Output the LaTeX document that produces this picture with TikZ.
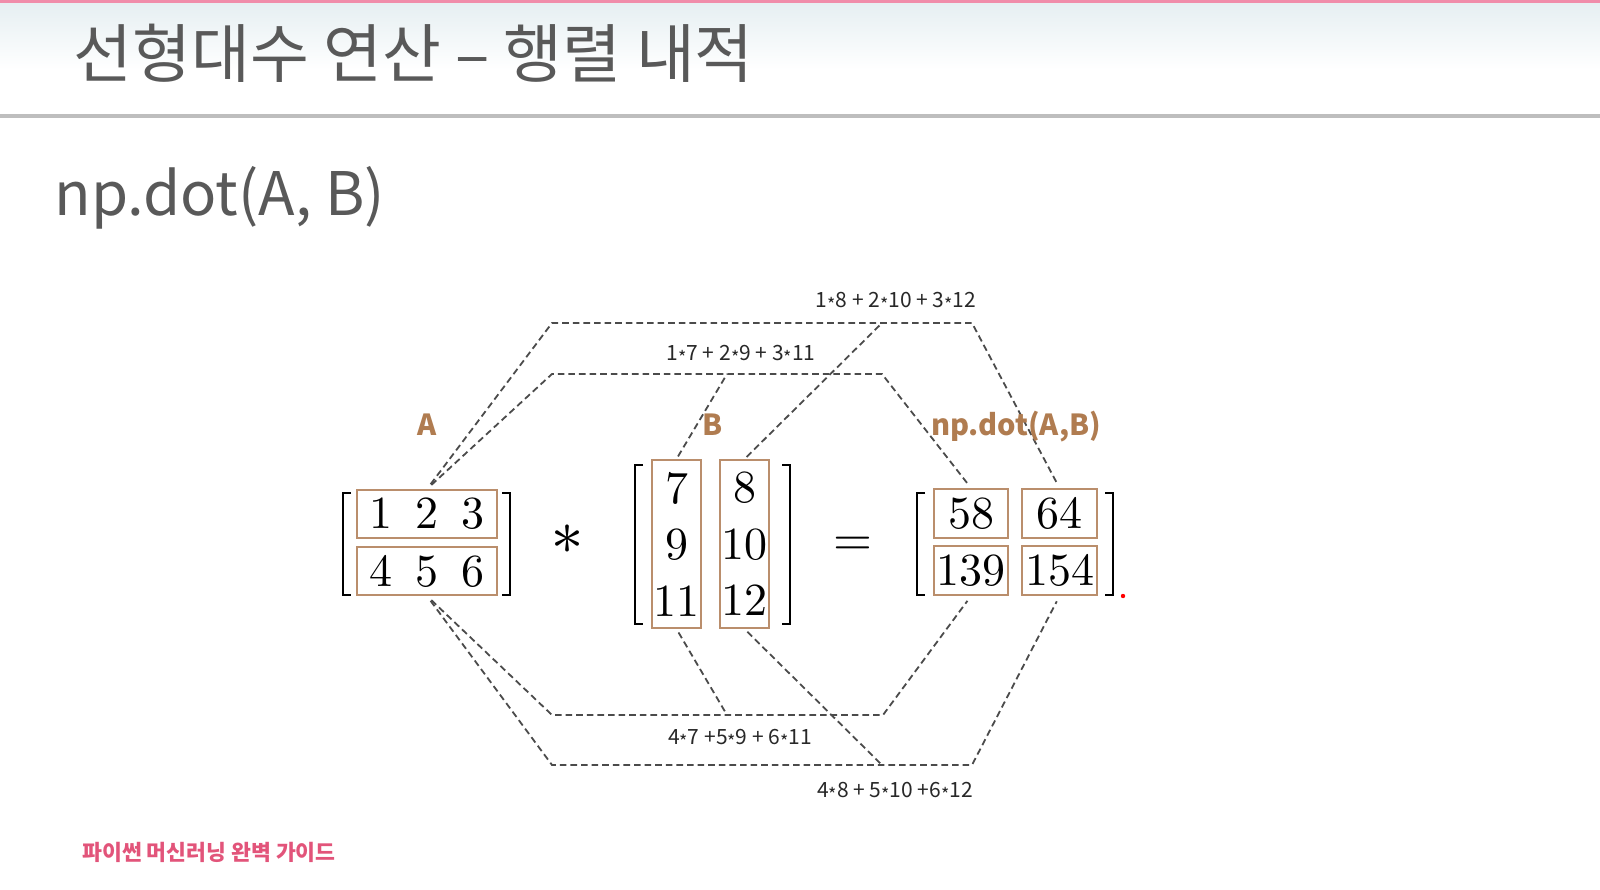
\documentclass[tikz,border=0pt]{standalone}
\usepackage{fontspec}
\newfontfamily\korean{Noto Sans CJK KR}
\newfontfamily\mathglyphs{latinmodern-math.otf}
\newfontfamily\celldigits{lmroman10-regular.otf}
\newcommand{\tm}{\raisebox{-0.35ex}{\scalebox{0.85}{*}}}
\definecolor{titlegray}{RGB}{89,89,89}
\definecolor{labelbrown}{RGB}{176,124,80}
\definecolor{boxbrown}{RGB}{186,142,108}
\definecolor{dashgray}{RGB}{75,75,75}
\definecolor{sumgray}{RGB}{40,40,40}
\definecolor{footpink}{RGB}{226,84,122}
\definecolor{headpink}{RGB}{240,140,170}
\definecolor{headblue}{RGB}{230,239,242}
\definecolor{rulegray}{RGB}{190,190,190}
\begin{document}
\begin{tikzpicture}[x=0.5pt, y=-0.5pt,
        cellbox/.style={draw=boxbrown, line width=1pt, inner sep=0pt, font=\celldigits\fontsize{23}{28.25}\selectfont},
        tagtext/.style={text=labelbrown, font=\korean\bfseries\fontsize{14.5}{17}\selectfont},
        sumtext/.style={text=sumgray, font=\korean\fontsize{10.5}{12}\selectfont},
        dotline/.style={dashgray, line width=0.9pt, dash pattern=on 3.3pt off 2pt},
        matbracket/.style={line width=1.2pt, black}]
    \useasboundingbox (0, 0) rectangle (1600, 889);
    \fill[white] (0, 0) rectangle (1600, 889);

    % header
    \shade[top color=headblue, bottom color=white] (0, 3) rectangle (1600, 70);
    \fill[headpink] (0, 0) rectangle (1600, 3);
    \fill[rulegray] (0, 114) rectangle (1600, 118);
    \node[anchor=west, inner sep=0pt, text=titlegray, font=\korean\fontsize{32}{36}\selectfont] (title) at (73, 53) {선형대수 연산 – 행렬 내적};
    \node[anchor=west, inner sep=0pt, text=titlegray, font=\korean\fontsize{30}{34}\selectfont] (call) at (54, 198) {np.dot(A, B)};

    % matrices
    \node[cellbox, minimum width=70pt, minimum height=24pt] (A1) at (427, 514) {1\enskip 2\enskip 3};
    \node[cellbox, minimum width=70pt, minimum height=24pt] (A2) at (427, 571) {4\enskip 5\enskip 6};
    \node[cellbox, align=center, minimum width=24.5pt, minimum height=84pt] (B1) at (676.5, 544) {7\\9\\11};
    \node[cellbox, align=center, minimum width=24.5pt, minimum height=84pt] (B2) at (744.5, 544) {8\\10\\12};
    \node[cellbox, minimum width=37pt, minimum height=24.5pt] (R11) at (971, 513.5) {58};
    \node[cellbox, minimum width=37.5pt, minimum height=24.5pt] (R12) at (1059.5, 513.5) {64};
    \node[cellbox, minimum width=37pt, minimum height=24.5pt] (R21) at (971, 570.5) {139};
    \node[cellbox, minimum width=37.5pt, minimum height=24.5pt] (R22) at (1059.5, 570.5) {154};
    \node[font=\mathglyphs\fontsize{32}{34}\selectfont] (times) at (567, 540) {∗};
    \node[font=\mathglyphs\fontsize{25}{28}\selectfont] (equals) at (853, 546) {=};

    % brackets
    \draw[matbracket] (351, 493) -- (343, 493) -- (343, 595) -- (351, 595);
    \draw[matbracket] (502, 493) -- (510, 493) -- (510, 595) -- (502, 595);
    \draw[matbracket] (643, 465) -- (635, 465) -- (635, 624) -- (643, 624);
    \draw[matbracket] (782, 465) -- (790, 465) -- (790, 624) -- (782, 624);
    \draw[matbracket] (925, 493) -- (917, 493) -- (917, 595) -- (925, 595);
    \draw[matbracket] (1105, 493) -- (1113, 493) -- (1113, 595) -- (1105, 595);
    \fill[red] (1123, 596) circle (1.1pt);

    % corners of the dashed paths
    \coordinate (otl) at (552, 323);
    \coordinate (otr) at (972, 323);
    \coordinate (itl) at (552, 374);
    \coordinate (itr) at (882, 374);
    \coordinate (ibl) at (552, 715);
    \coordinate (ibr) at (883, 715);
    \coordinate (obl) at (552, 765);
    \coordinate (obr) at (972, 765);
    \coordinate (jt1) at (727, 374);
    \coordinate (jt2) at (882, 323);
    \coordinate (jb1) at (727, 715);
    \coordinate (jb2) at (882, 765);

    \draw[dotline, shorten <=3pt, shorten >=2.5pt] (A1.north) -- (otl) -- (otr) -- (R12.north);
    \draw[dotline, shorten <=3pt, shorten >=2.5pt] (A1.north) -- (itl) -- (itr) -- (R11.north);
    \draw[dotline, shorten <=1.5pt] (B1.north) -- (jt1);
    \draw[dotline, shorten <=1.5pt] (B2.north) -- (jt2);
    \draw[dotline, shorten <=3pt, shorten >=3pt] (A2.south) -- (ibl) -- (ibr) -- (R21.south);
    \draw[dotline, shorten <=3pt, shorten >=3pt] (A2.south) -- (obl) -- (obr) -- (R22.south);
    \draw[dotline, shorten <=2pt] (B1.south) -- (jb1);
    \draw[dotline, shorten <=2pt] (B2.south) -- (jb2);

    % labels
    \node[tagtext] (tagA) at (427, 425) {A};
    \node[tagtext] (tagB) at (713, 425) {B};
    \node[tagtext] (tagR) at (1016, 427) {np.dot(A,B)};
    \node[sumtext] (s12) at (896, 302) {1\tm8 + 2\tm10 + 3\tm12};
    \node[sumtext] (s11) at (741, 355) {1\tm7 + 2\tm9 + 3\tm11};
    \node[sumtext] (s21) at (740, 739) {4\tm7 +5\tm9 + 6\tm11};
    \node[sumtext] (s22) at (895, 792) {4\tm8 + 5\tm10 +6\tm12};

    \node[anchor=west, inner sep=0pt, text=footpink, font=\korean\bfseries\fontsize{10.8}{13}\selectfont] (foot) at (82, 852) {파이썬 머신러닝 완벽 가이드};
\end{tikzpicture}
\end{document}
